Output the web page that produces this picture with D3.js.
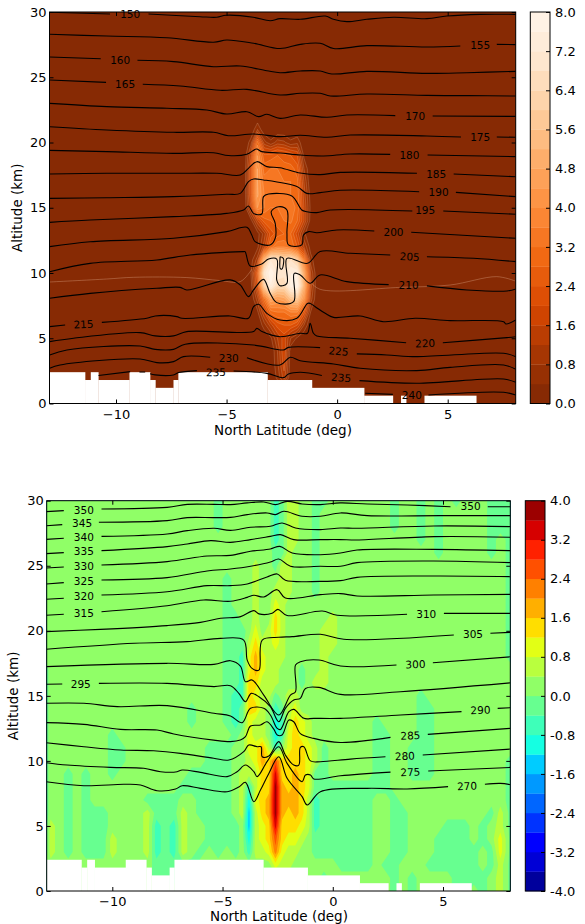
<!DOCTYPE html>
<html><head><meta charset="utf-8">
<script src="https://cdn.jsdelivr.net/npm/d3@7"></script>
<style>html,body{margin:0;padding:0;background:#fff}svg{display:block}
text{font-family:"DejaVu Sans",sans-serif;fill:#000}</style></head><body>
<svg id="c" width="585" height="924"></svg>
<script>
// ---------- shared ----------
const latTicks=[-10,-5,0,5];
const altTicks=[0,5,10,15,20,25,30];
const terrainEdges=[-13,-11.4,-11.14,-10.8,-9.39,-8.46,-8.22,-7.4,-7.18,-3.15,-1.14,1.22,2.52,2.89,3.12,3.95,6.29,8.08];
const terrainAlt=[2.4,1.8,2.4,1.8,2.4,1.8,1.2,1.8,2.4,1.8,1.2,.6,0,.6,0,.6,0];
const orangeStops=["#7f2704","#a63603","#d94801","#f16913","#fd8d3c","#fdae6b","#fdd0a2","#fee6ce","#fff5eb"];

// ---------- top panel: water-vapour field (values at lat/alt nodes, zero elsewhere) ----------
const plumeLat=[-4.2,-3.9,-3.6,-3.3,-3.0,-2.7,-2.4,-2.1,-1.8,-1.5,-1.2,-0.9];
const plumeAlt=[21,20,19,18,17,16,15,14,13,12,11,10,9,8,7,6,5,4,3,2];
const plumeRows=[
[0,0,.8,0,0,0,0,0,0,0,0,0],
[0,.6,3,1,.5,1,.9,.5,.7,0,0,0],
[0,1.5,4,2.5,2.6,2.8,2.6,2.4,2,.3,0,0],
[0,2,4.4,3,3.2,3.2,3,3,2.6,.8,0,0],
[0,2,4.4,3.4,3.2,3.2,3.2,3.2,2.9,1.2,0,0],
[0,2,4.5,3.6,3.4,3.3,3.3,3.2,3.1,1.4,.2,0],
[0,1.6,4,3.6,3.2,3.2,3.4,3.4,3.1,1.6,.3,0],
[0,.2,1.5,2.6,2.8,3,3.2,3.3,2.8,1.6,.2,0],
[0,0,.2,1,2.2,2.6,2.8,2.8,1.8,.5,0,0],
[0,0,.3,1.4,3,3.6,3.6,3.2,2.4,1.2,.2,0],
[0,.2,1,5.2,7.2,6.8,6.4,6.8,6,3.4,.6,0],
[0,.4,2.4,7,8,7.2,7,7.6,7.6,4.6,1.2,0],
[0,.2,2,6,7.6,6.4,6.4,7.8,8,5,1.4,0],
[0,0,1,3,4.8,4.4,4.6,5.6,5.8,4,1,0],
[0,0,.3,1.6,3,3.2,3.2,3.6,3.6,2.2,.4,0],
[0,0,0,.6,1.4,2.2,2.4,2.4,2,.8,0,0],
[0,0,0,0,.3,1.2,1.8,.8,.3,0,0,0],
[0,0,0,0,0,.8,2,.1,0,0,0,0],
[0,0,0,0,0,.7,1.8,.1,0,0,0,0],
[0,0,0,0,0,.5,1.4,0,0,0,0,0]];
const faintContour=[[-13,9.31],[-10.42,9.54],[-9.21,9.67],[-6.8,9.65],[-5.29,9.42],[-4.38,9.34],[-3.86,10.28],null,[-1.22,9.34],[-.77,8.75],[2.85,8.9],[5.11,9.08],[7.22,9.72],[8.05,9.39]];

// ---------- top panel: isotherms, [lat,alt] with null where the line is broken ----------
const t150=[[-13,29.98],[-10.27,29.85],null,[-8.53,29.85],[-6.2,29.64],[-5.44,29.6],[-5.02,29.75],[-3.79,29.6],[-3.03,29.33],[-2.58,29.49],[-1.67,29.44],[-.54,29.69],[-.17,29.44],[.44,29.26],[1.34,29.44],[2.55,29.6],[4.06,29.49],[4.96,29.69],[6.47,29.82],[8.08,29.82]];
const t155=[[-13,28.29],[-10.42,28.16],[-7.7,28.03],[-5.59,27.68],[-4.99,27.85],[-3.78,27.6],[-2.58,27.2],[-1.67,27.52],[-.77,27.6],[-.16,27.2],[1.35,27.42],[4.06,27.32],[5.57,27.4],null,[7.22,27.52],[8.08,27.5]];
const t160=[[-13,26.55],[-10.69,26.42],null,[-9.03,26.3],[-7.4,26.2],[-5.59,25.81],[-4.38,25.86],[-3.18,25.5],[-2.58,25.35],[-1.67,25.48],[-.77,25.48],[-.24,25.25],[1.35,25.45],[4.06,25.3],[5.87,25.35],[8.08,25.45]];
const t165=[[-13,24.79],[-10.45,24.61],null,[-8.79,24.46],[-7.1,24.33],[-5.29,24],[-4.08,24.07],[-2.58,23.64],[-1.67,23.77],[-.77,23.77],[-.31,23.56],[1.35,23.72],[4.06,23.61],[5.87,23.59],[8.08,23.56]];
const t170=[[-13,23],[-10.42,22.75],[-7.7,22.62],[-5.89,22.49],[-4.99,22.18],[-4.08,22.36],[-3.55,21.98],[-3.18,22.16],[-2.58,21.85],[-1.67,22.11],[-.46,21.93],[.44,22.11],[2.63,22.06],null,[4.32,22.03],[8.08,22]];
const t175=[[-13,21.21],[-10.42,20.96],[-7.4,20.78],[-5.59,20.78],[-4.92,20.52],[-3.78,20.65],[-2.58,20.45],[-1.67,20.55],[-.46,20.4],[.59,20.57],[4.06,20.5],[5.6,20.42],null,[7.22,20.42],[8.08,20.4]];
const t180=[[-13,19.4],[-10.42,19.3],[-7.4,19.17],[-5.59,19.22],[-4.92,19],[-4.08,19.1],[-3.65,19.5],[-3.41,19.3],[-2.58,19.2],[-1.67,19.04],[-.61,18.97],[.59,19.12],[2.4,19.09],null,[4.09,19.04],[8.08,18.92]];
const t185=[[-13,17.59],[-10.42,17.64],[-7.4,17.64],[-5.44,17.64],[-4.38,17.51],[-4.01,18.02],[-3.63,18.53],[-3.18,18.15],[-2.58,18.07],[-1.67,17.66],[-.77,17.54],[.14,17.71],[3.61,17.64],null,[5.27,17.59],[8.08,17.38]];
const t190=[[-13,15.72],[-10.42,15.77],[-7.4,15.85],[-4.99,16.03],[-4.38,16.1],[-4.01,17],[-3.78,17.2],[-3.33,17.13],[-1.82,16.62],[-1.37,16.1],[-.77,16.16],[.14,16.34],[3.71,16.23],null,[5.37,16.18],[8.08,15.85]];
const t195=[[-13,13.88],[-11.17,14.06],[-7.4,14.32],[-4.99,14.57],[-4.23,14.83],[-4.01,15.13],[-3.78,14.57],[-3.41,14.52],[-3.33,15.85],[-3.1,16.05],[-2.05,15.9],[-1.6,14.83],[-1.37,14.7],[-.92,14.63],[-.31,14.83],[3.4,14.75],null,[4.8,14.75],[8.08,14.5]];
const t200=[[-13,12.02],[-11.17,12.4],[-7.4,12.66],[-4.99,13.17],[-4.08,13.5],[-3.86,12.91],[-3.71,12.4],[-3.03,12.15],[-2.8,12.66],[-2.8,13.8],[-2.98,14.7],[-2.65,15.08],[-2.27,14.83],[-2.27,13.04],[-2.2,12.15],[-1.6,12.15],[-1.52,12.91],[-1.29,13.17],[-.92,13.09],[-.01,13.3],[1.68,13.22],null,[3.35,13.12],[8.08,12.66]];
const t205=[[-13,10.1],[-11.17,10.74],[-8.15,11],[-6.65,11.38],[-4.23,11.64],[-4.16,11.63],[-3.93,10.54],[-3.41,10.69],[-3.1,11.07],[-2.73,11.07],[-2.73,9.46],[-2.58,9.03],[-2.27,9.21],[-2.27,11.12],[-1.34,10.74],[-.77,11.64],[.59,11.51],[2.4,11.38],null,[4.06,11.25],[6.17,11.13],[8.08,10.87],null,[-2.58,11.25],[-2.43,11.12],[-2.5,10.3],[-2.58,10.36],[-2.58,11.25]];
const t210=[[-13,8.06],[-11.17,8.44],[-8.15,8.83],[-7.1,8.9],[-6.8,8.7],[-4.84,9.47],[-4.38,9.08],[-4.01,8.19],[-3.78,8.7],[-3.33,9.51],[-3.03,8.44],[-2.73,7.73],[-1.97,7.8],[-1.94,9.97],[-1.67,9.85],[-1.22,9.21],[-.77,9.85],[.44,9.34],[2.33,9.11],null,[4.06,9.01],[5.87,8.7],[7.68,8.62],[8.08,8.78]];
const t215=[[-13,5.89],[-12.3,6.02],null,[-10.64,6.22],[-8.61,6.53],[-8.23,6.71],[-7.25,6.66],[-7.02,6.53],[-4.84,6.71],[-4.01,6.53],[-3.78,7.42],[-3.55,7.6],[-3.18,6.91],[-2.58,6.4],[-1.82,6.53],[-1.34,7.67],[-1.22,7.67],[-.99,7.42],[-.54,6.91],[-.16,6.6],[1.04,6.71],[2.1,6.27],[3.53,6.53],[5.11,6.35],[7.53,6.27],[7.63,6.09],[8.08,6.4]];
const t220=[[-13,4.74],[-11.92,5],[-8.91,5.43],[-8.23,5.18],[-7.4,5.18],[-6.8,5.51],[-3.78,5.51],[-3.63,5.76],[-3.4,5.51],[-2.58,5.12],[-1.67,5.38],[-1.34,5.38],[-1.22,6.14],[-1.07,5.38],[-.92,5.18],[.59,5],[3.12,4.66],null,[4.78,4.66],[7.68,5.05],[8.08,5.12]];
const t225=[[-13,3.72],[-12.22,4.1],[-8.91,4.41],[-8.23,4.15],[-7.4,4.15],[-6.87,4.54],[-3.78,4.48],[-2.43,4.1],[-2.2,4.3],[-.77,4.28],null,[.89,3.8],[2.25,3.72],[3.6,3.59],[7.53,3.85],[8.08,3.59]];
const t230=[[-13,2.7],[-12.53,2.95],[-8.91,3.41],[-8.15,3.13],[-7.4,3.21],[-6.95,3.59],[-5.74,3.54],null,[-4.08,3.51],[-2.58,2.95],[-2.12,3.54],[-1.67,3.28],[-.16,3.03],[1.04,2.7],[3.6,2.52],[5.11,2.77],[7.53,2.95],[8.08,2.62]];
const t235=[[-10.79,2.14],[-9.36,2.44],null,[-8.94,2.41],[-8.68,2.41],null,[-8.46,2.28],[-8.23,2.19],[-7.4,2.19],[-7.17,2.37],[-6.34,2.52],null,[-4.68,2.49],[-3.18,2.31],[-2.43,1.98],[-2.2,2.26],[-1.67,2.39],[-.69,2.14],null,[1.01,1.75],[3.6,1.55],[7.53,1.88],[8.08,1.62]];
const t240=[[1.27,.78],[2.52,.7],null,[4.13,.65],[7.53,.86],[8.08,.65]];
const topLines=[t150,t155,t160,t165,t170,t175,t180,t185,t190,t195,t200,t205,t210,t215,t220,t225,t230,t235,t240];
// lat, alt, level, text angle
const topLabels=[[-9.36,29.85,150,0],[6.47,27.45,155,0],[-9.81,26.3,160,0],[-9.59,24.48,165,0],[3.53,22.03,170,0],[6.47,20.42,175,0],[3.27,19.04,180,0],[4.48,17.59,185,0],[4.59,16.18,190,0],[3.98,14.83,195,0],[2.55,13.14,200,0],[3.28,11.25,205,3],[3.23,9.08,210,0],[-11.47,6.07,215,-3],[3.98,4.61,220,-2],[.06,4,225,5],[-4.9,3.44,230,0],[-5.48,2.39,235,-1],[.18,1.98,235,4],[3.38,.6,240,0]];

// ---------- bottom panel: vertical velocity field ----------
const velLat=[-13,-12.8,-12.4,-12,-11.6,-11.2,-10.8,-10.4,-10,-9.6,-9.2,-8.8,-8.4,-8,-7.6,-7.2,-6.8,-6.4,-6,-5.6,-5.2,-4.8,-4.4,-4.1,-3.8,-3.5,-3.2,-2.9,-2.6,-2.3,-2,-1.7,-1.4,-1.1,-.8,-.4,0,.4,.8,1.2,1.6,2,2.4,2.8,3.2,3.6,4,4.4,4.8,5.2,5.6,6,6.4,6.8,7.2,7.6,8.08];
const velCodes={".":.2,"-":-.2,"=":-.6,c:-1,d:-1.4,e:-1.8,1:.6,2:1,3:1.4,4:1.8,5:2.2,6:2.6,7:3,8:3.4,9:3.8};
// one row per km from 30 down to 0, one character per velLat node
const velRows=[
".......... .......... -.......=- 11..--.... ...-..-.-. -...---",
".......... .......... -.......=- 11..-..... ...-..-.-. ....---",
".......... .......... -.......=- 11..-..... ...-..-.-. ....---",
".......... .......... ........=- 11..-..... ......-.-. ....-.-",
".......... .......... ........-- 1...-..... ........-. ....-.-",
".......... .......... .....1..-1 1...-..... .......... ......-",
".......... .......... .-...1...1 1...-..... .......... ......-",
".......... .......... .-...1..11 1...-..... .......... ......-",
".......... .......... .-...1..21 .......... .......... ......-",
".......... .......... .--..1..31 ......1... .......... ......-",
".......... .......... .---.2.131 .....11... .......... ......-",
".......... .......... .---131121 .....11... .......... ......-",
".......... .......... .--=242111 .....1.... .......... ......-",
"-......... .......... .--=24211. ..-..1.... .......... .......",
"-......... .......... .--=33111. ..-.11.... .......... .......",
"-......... .......... .-==3211-. 11........ ......-... .......",
"-......... .......-.. .-=-331.=- 12........ ......--.. .......",
"-......... .......-.. .-=-211.c= 1321...... .-....--.. .......",
"-.......-. .......... ..-.211.c= 2321...... .--...--.. .......",
"-.......-- .........- --..2241=. 23321-.... .--..---.. .......",
"-.......-- .........- --..124363 33321-.... .--..---.. ......-",
"-..-.-..-. .......--- --.1113383 3432--.... .--..---.. ......-",
"-..-.-.... ......---- --.1=13394 3432------ ---....... ......-",
"-..-.-.... ..----..-- --.1c23494 4431=----- -..-...... ......-",
"-..-.---.. ..1---1.-- --.1d13494 3431=----- -..--..... ....-1-",
"-1.-.---.. ..1=-=1..- ---.d12383 3321=----- -..--....- --.-.1-",
"-1.-.---1. ..1=-=1..- ---.c12363 221.------ -..--...-- --.-.2-",
"-1.-.---1. ..1=-=1.-. -.-.=11252 11..------ -..--...-- ---.-2-",
".......... ...-----.. ........21 1......--- -.--...--- ---.-1-",
".......... ...---.... .......... .....-.... ...-.-.... ----.1-",
".......... .......... .......... .......... ...-.-.... --.-.1-"];

// ---------- bottom panel: potential temperature lines ----------
const b350=[[-13,29.16],[-12.2,29.24],null,[-10.49,29.36],[-7.51,29.49],[-6.6,29.72],[-5.39,29.72],[-4.64,29.7],[-3.88,29.83],[-3.13,29.9],[-2.6,29.7],[-2.07,29.95],[-1.39,29.75],[-.56,29.7],[.35,29.83],[1.56,29.75],[3.37,29.67],[5.34,29.54],null,[7.03,29.54],[8.06,29.54]];
const b345=[[-13,28.08],[-12.27,28.16],null,[-10.61,28.34],[-7.51,28.47],[-6.6,28.7],[-5.39,28.7],[-4.64,28.72],[-3.88,28.93],[-2.98,29.06],[-2.6,28.93],[-2.22,29.19],[-1.39,28.8],[-.56,28.8],[.35,29.06],[1.56,28.85],[4.88,28.85],[8.06,28.85]];
const b340=[[-13,27.03],[-12.2,27.11],null,[-10.49,27.26],[-7.51,27.44],[-6.6,27.7],[-5.39,27.88],[-4.64,27.72],[-3.73,27.96],[-2.83,28.03],[-2.3,28.29],[-1.69,27.9],[-.56,27.78],[.35,27.9],[1.1,27.88],[4.58,28.06],[8.06,28.01]];
const b335=[[-13,25.93],[-12.2,26.01],null,[-10.49,26.16],[-7.51,26.47],[-6.6,26.67],[-5.54,26.93],[-4.64,26.8],[-3.73,27.01],[-2.83,27.26],[-2.37,27.39],[-1.77,27.01],[-.56,27.01],[.35,27.01],[1.1,26.98],[4.58,27.24],[8.06,27.19]];
const b330=[[-13,24.83],[-12.2,24.9],null,[-10.49,25.06],[-7.51,25.32],[-5.7,25.75],[-4.64,25.8],[-3.73,26.11],[-2.83,26.29],[-2.4,26.49],[-1.84,25.98],[-.56,25.85],[.35,25.98],[1.1,26.21],[4.58,26.26],[8.06,26.16]];
const b325=[[-13,23.6],[-12.2,23.7],null,[-10.49,23.91],[-7.51,24.09],[-5.7,24.6],[-4.64,24.75],[-3.73,24.96],[-2.83,25.29],[-2.45,25.52],[-1.92,24.96],[-.56,24.96],[.35,24.96],[1.1,25.24],[4.58,25.37],[8.06,25.24]];
const b320=[[-13,22.42],[-12.2,22.5],null,[-10.49,22.75],[-7.51,23],[-5.7,23.47],[-4.64,23.47],[-3.88,23.6],[-2.98,24.14],[-2.52,24.37],[-2.15,23.88],[-.56,23.8],[.35,23.86],[1.1,24.11],[4.58,24.21],[8.06,24.16]];
const b315=[[-13,21.19],[-12.2,21.27],null,[-10.49,21.47],[-7.51,21.93],[-5.85,22.37],[-4.64,22.27],[-3.88,22.57],[-3.58,22.73],[-3.13,22.6],[-2.52,23.16],[-2.15,22.52],[-.56,22.78],[.35,22.86],[1.1,22.68],[4.58,22.75],[8.06,22.8]];
const b310=[[-13,19.94],[-10.54,20.11],[-7.51,20.4],[-6,20.65],[-5.09,20.96],[-4.18,21.09],[-3.58,21.55],[-3.35,21.3],[-2.75,21.35],[-2.49,21.65],[-2.07,21.17],[-.48,21.52],[.2,21.2],[3.37,21.27],null,[5.04,21.34],[8.06,21.34]];
const b305=[[-13,18.58],[-9,19.04],[-6.6,19.17],[-5.09,19.42],[-4.04,19.29],[-3.88,17.75],[-3.66,17.11],[-3.35,16.98],[-3.2,19.29],[-2.45,19.5],[-1.84,19.55],[-.56,19.73],[.5,19.35],[5.49,19.68],null,[7.15,19.81],[8.06,19.88]];
const b300=[[-13,17.25],[-7.51,17.5],[-5.39,17.42],[-4.64,17.7],[-4.19,17.29],[-3.96,16.09],[-3.66,16.22],[-3.13,15.06],[-2.45,13.53],[-1.92,15.06],[-1.69,15.32],[-1.69,17.37],[-1.47,17.62],[-.63,17.75],[.35,17.29],[2.89,17.37],null,[4.54,17.55],[8.06,18]];
const b295=[[-13,15.89],[-12.27,15.91],null,[-10.61,15.96],[-7.51,15.96],[-5.39,15.71],[-4.64,15.78],[-4.26,15.19],[-3.96,14.55],[-3.7,15.19],[-3.35,14.93],[-2.83,14.17],[-2.45,13.01],[-2.15,14.04],[-1.77,14.68],[-1.47,14.81],[-1.24,15.57],[-.63,15.65],[.35,15.11],[3.07,15.32],[8.06,16]];
const b290=[[-13,14.43],[-11.29,14.43],[-9.78,14.17],[-7.51,14.25],[-5.39,13.66],[-4.64,13.45],[-4.11,12.94],[-3.73,14.04],[-3.13,14.04],[-2.83,13.53],[-2.52,12.5],[-2.37,12.42],[-1.99,13.78],[-1.77,13.96],[-1.31,13.27],[-.86,13.27],[.35,13.27],[3.07,13.53],[5.84,13.79],null,[7.48,14.04],[8.06,14.09]];
const b285=[[-13,12.94],[-11.29,12.81],[-9.63,12.42],[-7.97,12.37],[-7.21,12.07],[-5.4,11.6],[-4.64,11.48],[-4.19,11.6],[-3.96,11.86],[-3.73,12.68],[-3.28,12.76],[-2.98,13.01],[-2.67,12.42],[-2.52,11.99],[-2.3,11.99],[-1.99,13.14],[-1.77,13.01],[-1.47,12.1],[-.86,11.73],[.35,11.42],[2.62,11.81],null,[4.31,12.04],[8.06,12.5]];
const b280=[[-13,11.4],[-11.29,11.09],[-9.63,10.84],[-8.12,10.78],[-6.91,10.58],[-5.4,10.2],[-4.71,10.07],[-4.04,10.71],[-3.81,11.22],[-3.43,11.09],[-3.25,11.09],[-3.2,10.32],[-2.9,10.37],[-2.45,11.48],[-2.15,10.45],[-1.77,9.68],[-1.54,9.68],[-1.47,11.04],[-1.31,11.09],[-1.01,10],[-.56,9.94],[.8,10.14],[2.39,10.32],null,[4.08,10.45],[8.06,10.91]];
const b275=[[-13,9.86],[-12.05,9.68],[-10.08,9.5],[-8.57,9.43],[-7.81,9.17],[-7.06,9.17],[-6.83,9.3],[-6,9.12],[-4.79,8.79],[-4.34,9.17],[-3.96,9.68],[-3.58,9.17],[-3.43,8.79],[-2.98,9.94],[-2.45,11.09],[-2.07,9.81],[-1.39,8.4],[-1.24,8.91],[-1.01,8.91],[-.86,8.61],[.35,8.86],[2.62,9.14],null,[4.33,9.22],[8.06,9.5]];
const b270=[[-13,8.4],[-11.29,8.09],[-9.48,8.2],[-8.72,8.15],[-7.97,7.71],[-7.13,7.84],[-6.83,8.09],[-6,7.89],[-4.79,7.63],[-4.26,8],[-3.96,8.35],[-3.58,6.86],[-3.28,7.76],[-2.9,9.04],[-2.45,10.32],[-2.07,8.66],[-1.39,7.25],[-1.16,6.61],[-.56,7.63],[1.56,7.89],[3.37,7.84],[5.23,8.02],null,[6.9,8.2],[7.6,8.27],[8.06,8.17]];
const botLines=[b350,b345,b340,b335,b330,b325,b320,b315,b310,b305,b300,b295,b290,b285,b280,b275,b270];
const botLabels=[[-11.29,29.29,350,0],[6.25,29.54,350,0],[-11.37,28.26,345,0],[-11.29,27.19,340,0],[-11.29,26.08,335,0],[-11.29,24.98,330,0],[-11.29,23.83,325,0],[-11.29,22.63,320,0],[-11.29,21.37,315,0],[4.24,21.27,310,0],[6.36,19.73,305,0],[3.75,17.42,300,-2],[-11.43,15.91,295,0],[6.7,13.91,290,-2],[3.52,11.94,285,-2],[3.27,10.37,280,-2],[3.52,9.14,275,-2],[6.09,8.07,270,-2]];

// ---------- helpers ----------
const svg=d3.select("#c");
const jetR=d3.scaleLinear([0,.35,.66,.89,1],[0,0,1,1,.5]);
const jetG=d3.scaleLinear([0,.125,.375,.64,.91,1],[0,0,1,1,0,0]);
const jetB=d3.scaleLinear([0,.11,.34,.65,1],[.5,1,1,0,0]);
const jet=t=>d3.rgb(255*jetR(t),255*jetG(t),255*jetB(t)).formatHex();
const oranges=d3.scaleLinear(orangeStops.map((_,i)=>i/8),orangeStops);
const topColor=v=>oranges(v/8), botColor=v=>jet((v+4)/8);
const levelsTop=d3.range(0,8,.4).map(v=>+v.toFixed(1));
const levelsBot=d3.range(-4,4,.4).map(v=>+v.toFixed(1));

function panel(o){
  const x=d3.scaleLinear([-10,5],[o.x10,o.x5]);
  const y=d3.scaleLinear([0,30],[o.y0,o.y30]);
  const g=svg.append("g");
  const id="clip"+o.name;
  svg.append("clipPath").attr("id",id).append("rect").attr("x",o.left).attr("y",o.y30).attr("width",o.right-o.left).attr("height",o.y0-o.y30);
  const plot=g.append("g").attr("clip-path",`url(#${id})`);
  const nx=o.lats.length, ny=o.alts.length;
  const latOf=d3.scaleLinear(d3.range(nx),o.lats).clamp(true);
  const altOf=d3.scaleLinear(d3.range(ny),o.alts).clamp(true);
  const cont=d3.contours().size([nx,ny]).thresholds(o.levels);
  const tr=d3.geoTransform({point(px,py){this.stream.point(x(latOf(px-.5)),y(altOf(py-.5)));}});
  const path=d3.geoPath(tr);
  plot.append("rect").attr("x",o.left).attr("y",o.y30).attr("width",o.right-o.left).attr("height",o.y0-o.y30).attr("fill",o.color(o.levels[o.baseIdx]+.2));
  plot.selectAll("path.band").data(cont(o.values)).join("path").attr("class","band")
    .attr("d",path).attr("fill",d=>o.color(d.value+.2))
    .attr("stroke",d=>o.pale&&d.value>0?"rgba(255,228,200,.38)":"none").attr("stroke-width",.5);
  plot.selectAll("rect.ground").data(terrainAlt).join("rect").attr("class","ground")
    .attr("x",(d,i)=>x(terrainEdges[i])).attr("width",(d,i)=>x(terrainEdges[i+1])-x(terrainEdges[i])+.3)
    .attr("y",d=>y(d)).attr("height",d=>y(0)-y(d)+1).attr("fill","#fff");
  const line=d3.line().defined(d=>d).x(d=>x(d[0])).y(d=>y(d[1])).curve(d3.curveCatmullRom.alpha(.5));
  if(o.faint) plot.append("path").attr("d",line(o.faint)).attr("fill","none").attr("stroke","rgba(255,215,185,.55)").attr("stroke-width",.5);
  plot.selectAll("path.iso").data(o.lines).join("path").attr("class","iso").attr("d",line)
    .attr("fill","none").attr("stroke","#000").attr("stroke-width",1.1);
  g.selectAll("text.lab").data(o.labels).join("text").attr("class","lab")
    .attr("transform",d=>`translate(${x(d[0])},${y(d[1])}) rotate(${d[3]})`)
    .attr("text-anchor","middle").attr("dy","0.36em").attr("font-size",10.5).text(d=>d[2]);
  // frame and ticks
  const xs=x.copy().domain([-13,8.08]).range([x(-13),x(8.08)]);
  const style=s=>{s.select(".domain").remove();s.selectAll("line").attr("stroke","#000").attr("stroke-width",1);s.selectAll("text").attr("font-size",13).attr("fill","#000").style("font-family",'"DejaVu Sans",sans-serif');};
  g.append("g").attr("transform",`translate(0,${o.y0})`).call(d3.axisBottom(xs).tickValues(latTicks).tickSizeInner(-4).tickSizeOuter(0).tickPadding(6)).call(style);
  g.append("g").attr("transform",`translate(0,${o.y30})`).call(d3.axisTop(xs).tickValues(latTicks).tickSizeInner(-4).tickSizeOuter(0).tickFormat("")).call(style);
  g.append("g").attr("transform",`translate(${o.left},0)`).call(d3.axisLeft(y).tickValues(altTicks).tickSizeInner(-4).tickSizeOuter(0).tickPadding(3)).call(style);
  g.append("g").attr("transform",`translate(${o.right},0)`).call(d3.axisRight(y).tickValues(altTicks).tickSizeInner(-4).tickSizeOuter(0).tickFormat("")).call(style);
  g.append("rect").attr("x",o.left).attr("y",o.y30).attr("width",o.right-o.left).attr("height",o.y0-o.y30).attr("fill","none").attr("stroke","#000").attr("stroke-width",1);
  g.append("text").attr("x",o.xlabelX).attr("y",o.y0+o.xlabelDy).attr("text-anchor","middle").attr("font-size",13.5).text("North Latitude (deg)");
  g.append("text").attr("transform",`translate(${o.ylabelX},${(o.y0+o.y30)/2}) rotate(-90)`).attr("text-anchor","middle").attr("font-size",13.5).text("Altitude (km)");
  // colour bar
  const cb=d3.scaleLinear([o.levels[0],o.levels[o.levels.length-1]+.4],[o.y0,o.y30]);
  g.selectAll("rect.cb").data(o.levels).join("rect").attr("class","cb")
    .attr("x",o.cbL).attr("width",o.cbR-o.cbL).attr("y",d=>cb(d+.4)).attr("height",d=>cb(d)-cb(d+.4)+.3).attr("fill",d=>o.color(d+.2));
  g.append("g").attr("transform",`translate(${o.cbR},0)`).call(d3.axisRight(cb).tickValues(o.cbTicks).tickSizeInner(-4).tickSizeOuter(0).tickPadding(5).tickFormat(v=>d3.format(".1f")(v).replace("\u2212","-"))).call(style);
  g.append("rect").attr("x",o.cbL).attr("y",o.y30).attr("width",o.cbR-o.cbL).attr("height",o.y0-o.y30).attr("fill","none").attr("stroke","#000").attr("stroke-width",1);
}

// build top grid: plume values with a zero border
const topLats=[-13,-4.5,...plumeLat,-.6,8.08];
const topAlts=[30,22,...plumeAlt,1,0];
const topVals=[];
topAlts.forEach(a=>{const ri=plumeAlt.indexOf(a);topLats.forEach(l=>{const ci=plumeLat.indexOf(l);topVals.push(ri>=0&&ci>=0?plumeRows[ri][ci]:0);});});
const botAlts=d3.range(30,-1,-1);
const botVals=velRows.flatMap(r=>Array.from(r.replace(/ /g,"")).map(c=>velCodes[c]));

panel({name:"T",x10:116,x5:447.7,left:49.5,right:515.7,y0:403.5,y30:12,lats:topLats,alts:topAlts,values:topVals,levels:levelsTop,baseIdx:0,color:topColor,pale:true,faint:faintContour,lines:topLines,labels:topLabels,xlabelX:283,xlabelDy:31,ylabelX:22,cbL:530.3,cbR:550,cbTicks:d3.range(0,8.01,.8).map(v=>+v.toFixed(1))});
panel({name:"B",x10:112.3,x5:443,left:46.7,right:510.3,y0:891,y30:500.7,lats:velLat,alts:botAlts,values:botVals,levels:levelsBot,baseIdx:10,color:botColor,pale:false,faint:null,lines:botLines,labels:botLabels,xlabelX:279,xlabelDy:30,ylabelX:18,cbL:525.3,cbR:545,cbTicks:d3.range(-4,4.01,.8).map(v=>+v.toFixed(1))});
</script></body></html>
